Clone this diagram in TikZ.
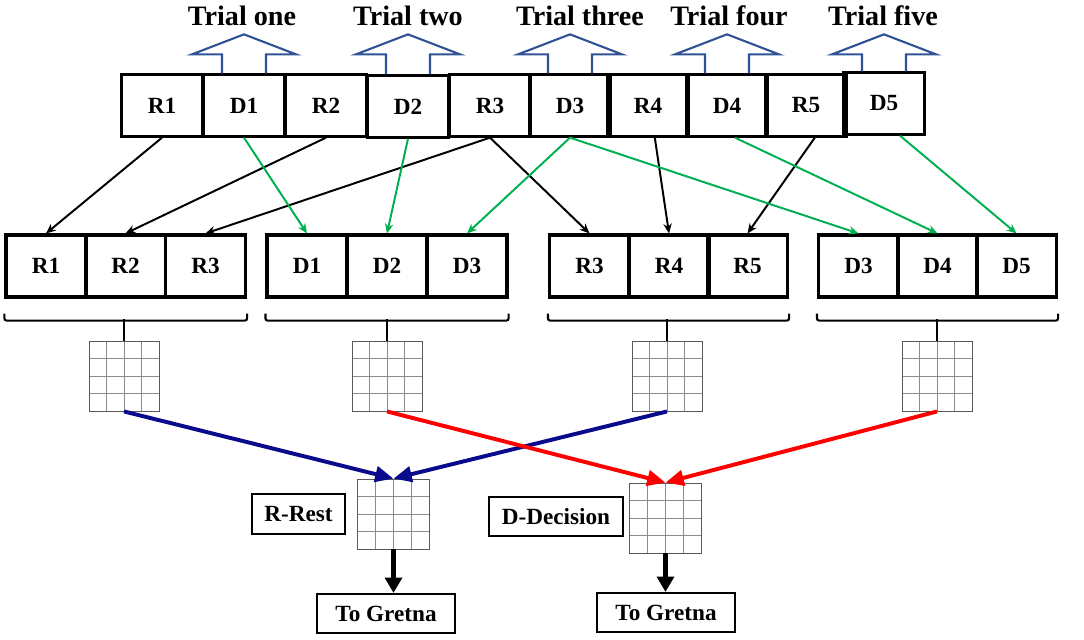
\documentclass[tikz,border=0pt]{standalone}
\usepackage{fontspec}
\setmainfont{Liberation Serif}
\usepackage{tikz}
\usetikzlibrary{arrows.meta,calc}
\definecolor{trialblue}{RGB}{47,82,150}
\definecolor{restblue}{RGB}{10,10,140}
\definecolor{decred}{RGB}{255,0,0}
\definecolor{dgreen}{RGB}{0,176,80}

\begin{document}
\begin{tikzpicture}[x=0.025cm, y=-0.025cm,
    cell/.style={draw, line width=2.2pt, minimum width=2.02cm, minimum height=1.53cm, inner sep=0pt, font=\fontsize{16.5}{20}\selectfont\bfseries},
    lbl/.style={draw, line width=1.3pt, minimum height=0.98cm, inner sep=0pt, font=\fontsize{16.5}{20}\selectfont\bfseries},
    triallbl/.style={font=\fontsize{20}{24}\selectfont\bfseries},
    trialarrow/.style={draw=trialblue, line width=1.5pt},
    gridbox/.style={draw=black!65, line width=0.6pt, minimum width=1.75cm, minimum height=1.75cm, inner sep=0pt,
        path picture={
            \foreach \k in {0.25,0.5,0.75}{
                \draw[black!45, line width=0.5pt] ($(path picture bounding box.south west)!\k!(path picture bounding box.south east)$) -- ($(path picture bounding box.north west)!\k!(path picture bounding box.north east)$);
                \draw[black!45, line width=0.5pt] ($(path picture bounding box.south west)!\k!(path picture bounding box.north west)$) -- ($(path picture bounding box.south east)!\k!(path picture bounding box.north east)$);
            }}},
    rarr/.style={line width=1.4pt, -{Stealth[length=7pt,width=6pt]}},
    darr/.style={rarr, dgreen},
    bracket/.style={line width=1.5pt, rounded corners=1.5pt},
    avg/.style={line width=2.8pt, -{Triangle[length=13pt,width=11pt]}},
    outarr/.style={line width=3.5pt, -{Triangle[length=11pt,width=12pt]}}
]
    \useasboundingbox (0,0) rectangle (1084,639);

    % interleaved run
    \node[cell] (tR1) at (162,105.5) {R1};
    \node[cell] (tD1) at (244,105.5) {D1};
    \node[cell] (tR2) at (326,105.5) {R2};
    \node[cell] (tD2) at (408,106.5) {D2};
    \node[cell] (tR3) at (490,105.5) {R3};
    \node[cell] (tD3) at (570,105.5) {D3};
    \node[cell] (tR4) at (648,105.5) {R4};
    \node[cell] (tD4) at (727,105.5) {D4};
    \node[cell] (tR5) at (806,105.5) {R5};
    \node[cell] (tD5) at (884,103.5) {D5};

    \draw[trialarrow] ([xshift=-0.55cm]tD1.north) -- ++(0,-19) -- ++(-30,0) -- ++(52,-20) -- ++(52,20) -- ++(-30,0) -- ++(0,19);
    \draw[trialarrow] ([xshift=-0.55cm]tD2.north) -- ++(0,-20) -- ++(-30,0) -- ++(52,-20) -- ++(52,20) -- ++(-30,0) -- ++(0,20);
    \draw[trialarrow] ([xshift=-0.55cm]tD3.north) -- ++(0,-19) -- ++(-30,0) -- ++(52,-20) -- ++(52,20) -- ++(-30,0) -- ++(0,19);
    \draw[trialarrow] ([xshift=-0.55cm]tD4.north) -- ++(0,-19) -- ++(-30,0) -- ++(52,-20) -- ++(52,20) -- ++(-30,0) -- ++(0,19);
    \draw[trialarrow] ([xshift=-0.55cm]tD5.north) -- ++(0,-17) -- ++(-30,0) -- ++(52,-20) -- ++(52,20) -- ++(-30,0) -- ++(0,17);

    \node[triallbl] (trial1) at (242,16) {Trial one};
    \node[triallbl] (trial2) at (408,16) {Trial two};
    \node[triallbl] (trial3) at (580,16) {Trial three};
    \node[triallbl] (trial4) at (729,16) {Trial four};
    \node[triallbl] (trial5) at (883,16) {Trial five};

    % regrouped blocks
    \node[cell, minimum width=2cm, minimum height=1.55cm] (aR1) at (46,266) {R1};
    \node[cell, minimum width=2cm, minimum height=1.55cm] (aR2) at (125.5,266) {R2};
    \node[cell, minimum width=2cm, minimum height=1.55cm] (aR3) at (205.5,266) {R3};
    \node[cell, minimum width=2cm, minimum height=1.55cm] (bD1) at (307,266) {D1};
    \node[cell, minimum width=2cm, minimum height=1.55cm] (bD2) at (387,266) {D2};
    \node[cell, minimum width=2cm, minimum height=1.55cm] (bD3) at (467,266) {D3};
    \node[cell, minimum width=2cm, minimum height=1.55cm] (cR3) at (589.5,266) {R3};
    \node[cell, minimum width=2cm, minimum height=1.55cm] (cR4) at (669,266) {R4};
    \node[cell, minimum width=2cm, minimum height=1.55cm] (cR5) at (747.5,266) {R5};
    \node[cell, minimum width=2cm, minimum height=1.55cm] (dD3) at (858.5,266) {D3};
    \node[cell, minimum width=2cm, minimum height=1.55cm] (dD4) at (937.5,266) {D4};
    \node[cell, minimum width=2cm, minimum height=1.55cm] (dD5) at (1016.5,266) {D5};

    \draw[rarr] (tR1.south) -- (aR1.north);
    \draw[rarr] (tR2.south) -- (aR2.north);
    \draw[rarr] (tR3.south) -- (aR3.north);
    \draw[rarr] (tR3.south) -- (cR3.north);
    \draw[rarr] ([xshift=0.17cm]tR4.south) -- (cR4.north);
    \draw[rarr] ([xshift=0.22cm]tR5.south) -- (cR5.north);
    \draw[darr] (tD1.south) -- (bD1.north);
    \draw[darr] (tD2.south) -- (bD2.north);
    \draw[darr] (tD3.south) -- (bD3.north);
    \draw[darr] (tD3.south) -- (dD3.north);
    \draw[darr] ([xshift=0.2cm]tD4.south) -- (dD4.north);
    \draw[darr] ([xshift=0.4cm]tD5.south) -- (dD5.north);

    % correlation matrices
    \node[gridbox] (ga) at (124,376) {};
    \node[gridbox] (gb) at (387,376) {};
    \node[gridbox] (gc) at (667,376) {};
    \node[gridbox] (gd) at (937,376) {};

    \draw[bracket] ([yshift=-0.375cm]aR1.south west) -- ++(0,7) -| ([yshift=-0.375cm]aR3.south east);
    \draw[bracket] ([yshift=-0.375cm]bD1.south west) -- ++(0,7) -| ([yshift=-0.375cm]bD3.south east);
    \draw[bracket] ([yshift=-0.375cm]cR3.south west) -- ++(0,7) -| ([yshift=-0.375cm]cR5.south east);
    \draw[bracket] ([yshift=-0.375cm]dD3.south west) -- ++(0,7) -| ([yshift=-0.375cm]dD5.south east);
    \draw[line width=1.5pt] (ga.north) -- ++(0,-22);
    \draw[line width=1.5pt] (gb.north) -- ++(0,-22);
    \draw[line width=1.5pt] (gc.north) -- ++(0,-22);
    \draw[line width=1.5pt] (gd.north) -- ++(0,-22);

    % averaged matrices
    \node[gridbox, minimum width=1.78cm] (restgrid) at (393.5,514) {};
    \node[gridbox, minimum width=1.78cm] (decgrid) at (665.5,518) {};
    \node[lbl, minimum width=2.33cm] (restlbl) at (298.5,514) {R-Rest};
    \node[lbl, minimum width=3.35cm] (declbl) at (556,516.5) {D-Decision};
    \node[lbl, minimum width=3.45cm] (restout) at (386,613.5) {To Gretna};
    \node[lbl, minimum width=3.45cm] (decout) at (666,612.5) {To Gretna};

    \draw[avg, restblue] (ga.south) -- (restgrid.north);
    \draw[avg, restblue] (gc.south) -- (restgrid.north);
    \draw[avg, decred] (gb.south) -- (decgrid.north);
    \draw[avg, decred] (gd.south) -- (decgrid.north);

    \draw[outarr] (restgrid.south) -- (restgrid.south |- restout.north);
    \draw[outarr] (decgrid.south) -- (decgrid.south |- decout.north);

\end{tikzpicture}
\end{document}
